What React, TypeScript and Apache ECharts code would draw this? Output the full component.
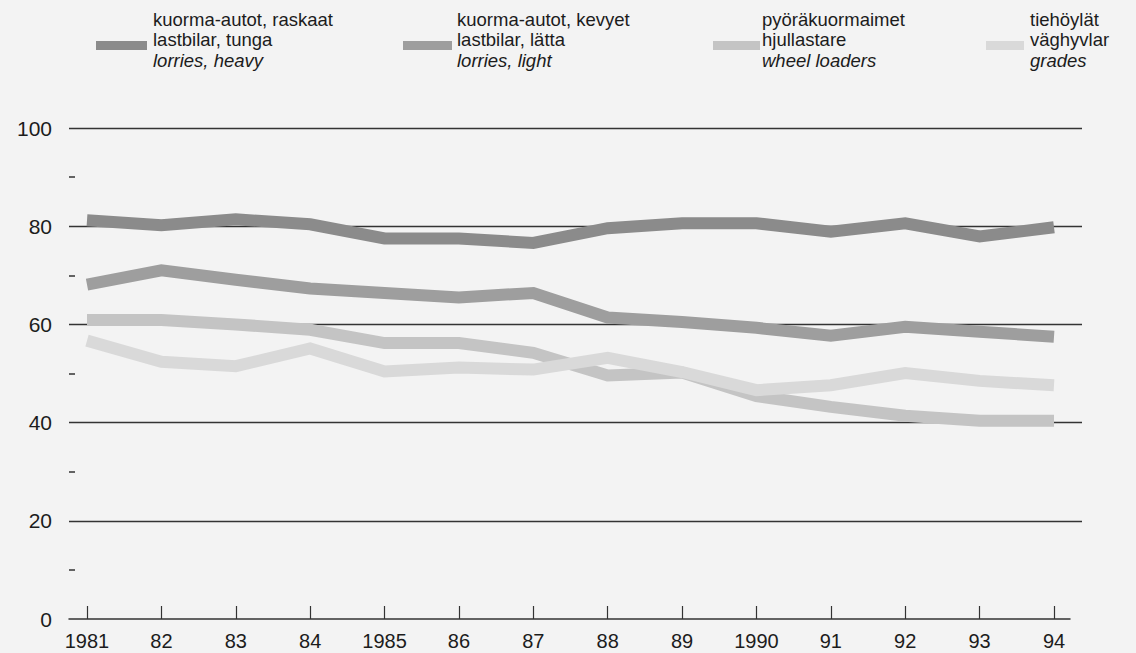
import React, { useEffect, useRef } from "react";
import * as echarts from "echarts";

// ---- data ----
const years = [1981, 1982, 1983, 1984, 1985, 1986, 1987, 1988, 1989, 1990, 1991, 1992, 1993, 1994];
const yearLabels = ["1981", "82", "83", "84", "1985", "86", "87", "88", "89", "1990", "91", "92", "93", "94"];
const heavy = [81.2, 80.2, 81.4, 80.4, 77.5, 77.5, 76.6, 79.6, 80.6, 80.6, 78.9, 80.6, 77.9, 79.8];
const light = [68.1, 71.0, 69.1, 67.3, 66.4, 65.5, 66.4, 61.4, 60.5, 59.3, 57.7, 59.5, 58.5, 57.5];
const wheel = [60.9, 60.9, 60.0, 58.9, 56.2, 56.2, 54.2, 49.6, 50.2, 45.4, 43.2, 41.4, 40.4, 40.4];
const grades = [56.7, 52.4, 51.5, 55.1, 50.4, 51.2, 50.8, 53.2, 50.3, 46.6, 47.6, 50.1, 48.5, 47.6];
const legendFi = ["kuorma-autot, raskaat", "kuorma-autot, kevyet", "pyöräkuormaimet", "tiehöylät"];
const legendSv = ["lastbilar, tunga", "lastbilar, lätta", "hjullastare", "väghyvlar"];
const legendEn = ["lorries, heavy", "lorries, light", "wheel loaders", "grades"];
const seriesValues = [heavy, light, wheel, grades];

// ---- styling / layout ----
const colors = ["#8b8b8b", "#9e9e9e", "#c4c4c4", "#d9d9d9"];
const swatchX = [96, 403, 713, 986];
const swatchW = [51, 49, 47, 38];
const textX = [153, 457, 762, 1030];
const FONT = '"Liberation Sans", Arial, Helvetica, sans-serif';

const px1981 = 87;
const px1994 = 1054;
const gridLeft = 69;
const axisRight = 1070;
const gridlineRight = 1082;
const top = 128;
const zeroY = 619;
const step = (px1994 - px1981) / (years[years.length - 1] - years[0]);
const xMin = years[0] - (px1981 - gridLeft) / step;
const xMax = years[years.length - 1] + (axisRight - px1994) / step;
const pxPerUnit = (zeroY - top) / 100;

export default function App() {
  const ref = useRef<HTMLDivElement>(null);
  useEffect(() => {
    if (!ref.current) return;
    const chart = echarts.init(ref.current, null, { renderer: "svg" });
    const graphic: any[] = [];
    for (let i = 0; i < 4; i++) {
      graphic.push({
        type: "rect",
        shape: { x: swatchX[i], y: 41, width: swatchW[i], height: 9 },
        style: { fill: colors[i] },
      });
      const lines = [legendFi[i], legendSv[i], legendEn[i]];
      lines.forEach((t, j) => {
        graphic.push({
          type: "text",
          x: textX[i],
          y: 19 + j * 20.5,
          style: {
            text: t,
            fill: "#1c1c1c",
            fontSize: 18.5,
            fontFamily: FONT,
            fontStyle: j === 2 ? "italic" : "normal",
            verticalAlign: "middle",
            align: "left",
          },
        });
      });
    }
    chart.setOption({
      animation: false,
      backgroundColor: "#f3f3f3",
      grid: [
        { left: gridLeft, top: top, width: axisRight - gridLeft, height: zeroY - top },
        { left: gridLeft, top: top, width: gridlineRight - gridLeft, height: pxPerUnit * 80 },
      ],
      xAxis: [
        {
          type: "value",
          gridIndex: 0,
          min: xMin,
          max: xMax,
          axisLine: { show: true, lineStyle: { color: "#333", width: 1.5 } },
          axisTick: {
            show: true,
            inside: true,
            length: 13,
            customValues: years,
            lineStyle: { color: "#333", width: 1.2 },
          },
          axisLabel: {
            show: true,
            customValues: years,
            margin: 12,
            fontSize: 20,
            fontFamily: FONT,
            color: "#1c1c1c",
            formatter: (v: number) => yearLabels[years.indexOf(Math.round(v))] ?? "",
          },
          splitLine: { show: false },
        },
        { type: "value", gridIndex: 1, min: 0, max: 1, show: false },
      ],
      yAxis: [
        {
          type: "value",
          gridIndex: 0,
          min: 0,
          max: 100,
          interval: 20,
          axisLine: { show: false },
          axisTick: { show: false, inside: true },
          minorTick: { show: true, splitNumber: 2, length: 6, lineStyle: { color: "#333", width: 1.5 } },
          axisLabel: {
            fontSize: 21,
            fontFamily: FONT,
            color: "#1c1c1c",
            margin: 17,
            padding: [7, 0, 0, 0],
          },
          splitLine: { show: false },
        },
        {
          type: "value",
          gridIndex: 1,
          min: 20,
          max: 100,
          interval: 20,
          axisLine: { show: false },
          axisTick: { show: false },
          axisLabel: { show: false },
          splitLine: { show: true, lineStyle: { color: "#333", width: 1.4 } },
        },
      ],
      series: seriesValues.map((vals, i) => ({
        type: "line",
        name: legendEn[i],
        xAxisIndex: 0,
        yAxisIndex: 0,
        data: years.map((y, k) => [y, vals[k]]),
        symbol: "none",
        z: 3 + i,
        lineStyle: { color: colors[i], width: 12, cap: "butt", join: "miter" },
      })),
      graphic,
    });
    return () => chart.dispose();
  }, []);
  return (
    <div
      ref={ref}
      style={{ position: "absolute", left: 0, top: 0, width: 1136, height: 653 }}
    />
  );
}
